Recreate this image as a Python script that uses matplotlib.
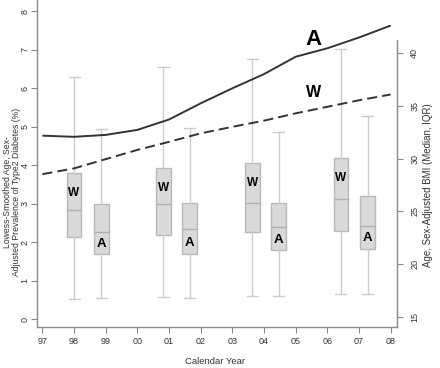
import matplotlib
matplotlib.use("Agg")
import matplotlib.pyplot as plt

plt.rcParams['font.family'] = ['Liberation Sans', 'DejaVu Sans']

# ---- data ----
years = [1997, 1998, 1999, 2000, 2001, 2002, 2003, 2004, 2005, 2006, 2007, 2008]
year_labels = ["97", "98", "99", "00", "01", "02", "03", "04", "05", "06", "07", "08"]
prev_A = [4.77, 4.74, 4.79, 4.92, 5.19, 5.61, 6.00, 6.37, 6.82, 7.04, 7.32, 7.63]
prev_W = [3.77, 3.92, 4.16, 4.40, 4.61, 4.83, 5.00, 5.16, 5.35, 5.52, 5.69, 5.84]

# BMI boxplots (median, IQR, whiskers)
pos_W = [1998.0, 2000.82, 2003.63, 2006.43]
pos_A = [1998.86, 2001.66, 2004.47, 2007.28]
W_q1 = [22.54, 22.75, 23.01, 23.13]
W_med = [25.10, 25.70, 25.79, 26.20]
W_q3 = [28.67, 29.14, 29.56, 30.03]
W_lo = [16.68, 16.84, 17.00, 17.15]
W_hi = [37.78, 38.70, 39.46, 40.41]
A_q1 = [20.92, 20.98, 21.30, 21.43]
A_med = [23.01, 23.32, 23.51, 23.58]
A_q3 = [25.67, 25.76, 25.82, 26.49]
A_lo = [16.78, 16.80, 17.00, 17.15]
A_hi = [32.84, 32.91, 32.50, 34.02]

fig = plt.figure(figsize=(4.4, 3.68), dpi=100)
ax1 = fig.add_axes([37/440, 41/368, 360/440, 327/368])
ax2 = ax1.twinx()

axis_col = '#8a8a8a'
txt_col = '#333333'

# boxplots on BMI axis
stats = []
for i in range(len(pos_W)):
    stats.append(dict(med=W_med[i], q1=W_q1[i], q3=W_q3[i], whislo=W_lo[i], whishi=W_hi[i], fliers=[]))
for i in range(len(pos_A)):
    stats.append(dict(med=A_med[i], q1=A_q1[i], q3=A_q3[i], whislo=A_lo[i], whishi=A_hi[i], fliers=[]))
ax2.bxp(stats, positions=pos_W + pos_A, widths=0.47, patch_artist=True, showfliers=False,
        boxprops=dict(facecolor='#d9d9d9', edgecolor='#b8b8b8', linewidth=1.0),
        medianprops=dict(color='#b0b0b0', linewidth=1.0),
        whiskerprops=dict(color='#cccccc', linewidth=1.0),
        capprops=dict(color='#cccccc', linewidth=1.0),
        capwidths=0.35, manage_ticks=False)
for p, q in zip(pos_W, W_q3):
    ax2.text(p, q - 1.9, "W", ha='center', va='center', fontsize=8.5, fontweight='bold', color='black')
for p, q in zip(pos_A, A_q1):
    ax2.text(p, q + 1.0, "A", ha='center', va='center', fontsize=9.5, fontweight='bold', color='black')

# prevalence lines
ax1.set_zorder(2)
ax1.patch.set_visible(False)
ax1.plot(years, prev_A, color='#333333', lw=1.4, solid_capstyle='butt')
ax1.plot(years, prev_W, color='#333333', lw=1.4, dashes=(5.2, 2.6))
ax1.text(2005.55, 7.28, "A", ha='center', va='center', fontsize=16, fontweight='bold', color='black')
ax1.text(2005.55, 5.88, "W", ha='center', va='center', fontsize=11.5, fontweight='bold', color='black')

# axes
ax1.set_xlim(1996.83, 2008.2)
ax1.set_ylim(-0.2, 8.294)
ax2.set_ylim(14.02, 45.06)
ax1.set_xticks(years)
ax1.set_xticklabels(year_labels)
ax1.set_yticks(range(0, 9))
ax2.set_yticks([15, 20, 25, 30, 35, 40])

for ax in (ax1, ax2):
    for s in ax.spines.values():
        s.set_color(axis_col)
        s.set_linewidth(1.0)
    ax.spines['top'].set_visible(False)
    ax.tick_params(colors=axis_col, labelcolor=txt_col, labelsize=6.5, length=4, width=0.8)
ax1.spines['right'].set_visible(False)
ax2.spines['left'].set_visible(False)
ax2.spines['bottom'].set_visible(False)
ax2.spines['right'].set_bounds(14.02, 41.3)
ax1.tick_params(axis='y', labelrotation=90, pad=1.5)
ax2.tick_params(axis='y', labelrotation=90, pad=5.5)
for lab in ax1.get_yticklabels():
    lab.set_va('center')
for lab in ax2.get_yticklabels():
    lab.set_va('center')
ax1.tick_params(axis='x', pad=3)

fig.text(12.5/440, 1 - 192/368, "Lowess-Smoothed Age, Sex-\nAdjusted Prevalence of Type2 Diabetes (%)",
         rotation=90, ha='center', va='center', fontsize=6.2, color=txt_col, linespacing=1.0)
fig.text(428/440, 1 - 185/368, "Age, Sex-Adjusted BMI (Median, IQR)",
         rotation=90, ha='center', va='center', fontsize=7, color=txt_col)
fig.text(215/440, 1 - 361/368, "Calendar Year", ha='center', va='center', fontsize=6.8, color=txt_col)

fig.savefig("out.png", dpi=100)
